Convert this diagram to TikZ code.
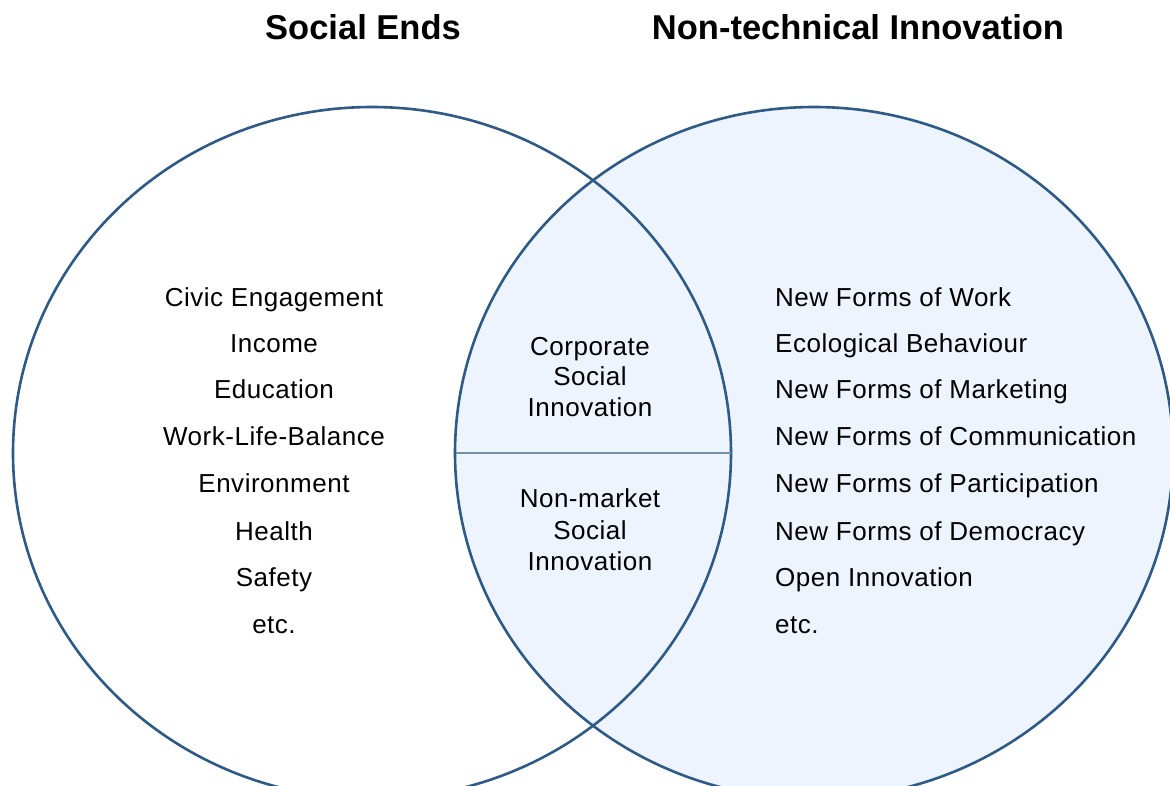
\documentclass[tikz,border=0pt]{standalone}
\usepackage{fontspec}
\setmainfont{Liberation Sans}
\newfontfamily\itemfont[LetterSpace=2]{Liberation Sans}
\definecolor{edgeblue}{HTML}{2E5A87}
\definecolor{lensfill}{HTML}{EEF4FD}
\definecolor{dividerblue}{HTML}{7190B0}
\begin{document}
\begin{tikzpicture}[x=1pt,y=-1pt,
  item/.style={font=\itemfont\fontsize{26}{31}\selectfont, inner sep=0pt, anchor=base, text=black},
  itemleft/.style={item, anchor=base west},
  titletext/.style={font=\fontsize{34.5}{40}\selectfont\bfseries, inner sep=0pt, anchor=base, text=black},
  circleline/.style={draw=edgeblue, line width=2.6pt}]
\useasboundingbox (0,0) rectangle (1170,785);
\clip (0,0) rectangle (1170,785);
\fill[white] (0,0) rectangle (1170,785);
% circles
\path[circleline, fill=lensfill] (814,453) ellipse [x radius=359pt, y radius=346pt];
\path[circleline] (372,453) ellipse [x radius=359pt, y radius=346pt];
\coordinate (lensL) at (455.5,453);
\coordinate (lensR) at (730.5,453);
\draw[dividerblue, line width=1.6pt] (lensL) -- (lensR);
% titles
\node[titletext] (t1) at (363,39.5) {Social Ends};
\node[titletext] (t2) at (858,39.5) {Non-technical Innovation};
% left list
\node[item] (l1) at (274,306.5) {Civic Engagement};
\node[item] (l2) at (274,352.7) {Income};
\node[item] (l3) at (274,398.5) {Education};
\node[item] (l4) at (274,445.5) {Work-Life-Balance};
\node[item] (l5) at (274,492.3) {Environment};
\node[item] (l6) at (274,540) {Health};
\node[item] (l7) at (274,586) {Safety};
\node[item] (l8) at (274,633.5) {etc.};
% middle
\node[item] (m1) at (590,355.5) {Corporate};
\node[item] (m2) at (590,385.5) {Social};
\node[item] (m3) at (590,416) {Innovation};
\node[item] (m4) at (590,507.5) {Non-market};
\node[item] (m5) at (590,539) {Social};
\node[item] (m6) at (590,570.5) {Innovation};
% right list
\node[itemleft] (r1) at (775,306.5) {New Forms of Work};
\node[itemleft] (r2) at (775,352.7) {Ecological Behaviour};
\node[itemleft] (r3) at (775,398.5) {New Forms of Marketing};
\node[itemleft] (r4) at (775,445.5) {New Forms of Communication};
\node[itemleft] (r5) at (775,492.3) {New Forms of Participation};
\node[itemleft] (r6) at (775,540) {New Forms of Democracy};
\node[itemleft] (r7) at (775,586) {Open Innovation};
\node[itemleft] (r8) at (775,633.5) {etc.};
\end{tikzpicture}
\end{document}
